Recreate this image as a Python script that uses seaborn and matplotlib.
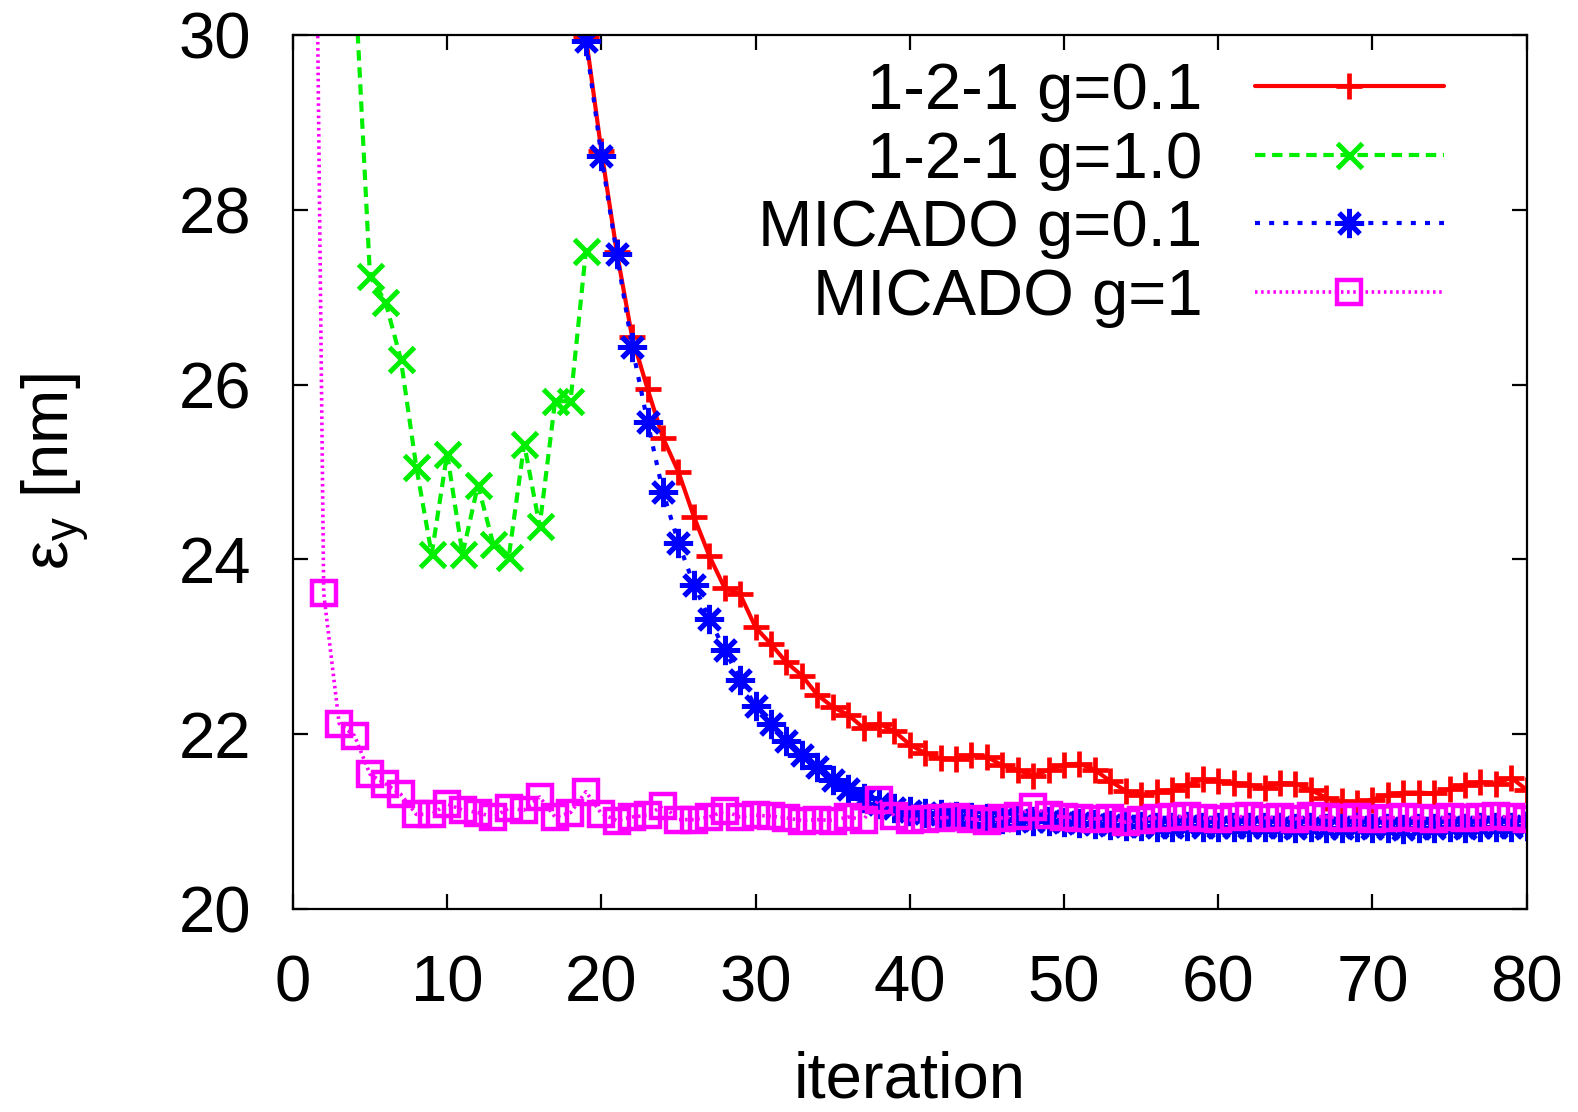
import numpy as np
import pandas as pd
import seaborn as sns
import matplotlib
matplotlib.use('Agg')
import matplotlib.pyplot as plt

# iterations and emittance values
red_iter = list(range(18, 81))
red_eps = [31.4, 29.98, 28.68, 27.52, 26.54, 25.95, 25.39, 25.0, 24.49, 24.04,
           23.67, 23.6, 23.22, 23.03, 22.82, 22.67, 22.45, 22.31, 22.22, 22.07,
           22.12, 22.03, 21.88, 21.78, 21.72, 21.71, 21.76, 21.74, 21.64, 21.59,
           21.52, 21.59, 21.65, 21.66, 21.59, 21.46, 21.35, 21.3, 21.34, 21.36,
           21.42, 21.48, 21.46, 21.44, 21.42, 21.38, 21.44, 21.43, 21.36, 21.27,
           21.23, 21.21, 21.25, 21.3, 21.33, 21.33, 21.32, 21.37, 21.42, 21.45,
           21.43, 21.5, 21.36]

green_iter = list(range(3, 20))
green_eps = [34.0, 30.73, 27.24, 26.95, 26.29, 25.06, 24.06, 25.21, 24.06, 24.85,
             24.17, 24.03, 25.32, 24.38, 25.81, 25.81, 27.53]

blue_iter = list(range(18, 81))
blue_eps = [31.3, 29.93, 28.62, 27.5, 26.43, 25.57, 24.77, 24.19, 23.71, 23.32,
            22.96, 22.62, 22.32, 22.11, 21.92, 21.76, 21.62, 21.47, 21.37, 21.27,
            21.2, 21.15, 21.12, 21.1, 21.08, 21.06, 21.05, 21.04, 21.03, 21.02,
            21.01, 21.0, 20.99, 20.98, 20.97, 20.96, 20.95, 20.95, 20.94, 20.94,
            20.95, 20.94, 20.93, 20.93, 20.94, 20.93, 20.93, 20.92, 20.93, 20.92,
            20.92, 20.93, 20.92, 20.92, 20.91, 20.92, 20.92, 20.93, 20.92, 20.93,
            20.93, 20.94, 20.95]

mag_iter = list(range(1, 81))
mag_eps = [40.0, 23.61, 22.12, 21.98, 21.54, 21.43, 21.31, 21.08, 21.08, 21.2,
           21.13, 21.1, 21.05, 21.15, 21.13, 21.28, 21.05, 21.1, 21.34, 21.09,
           21.01, 21.05, 21.07, 21.18, 21.02, 21.02, 21.05, 21.12, 21.05, 21.07,
           21.06, 21.04, 21.01, 21.02, 21.01, 21.05, 21.02, 21.25, 21.06, 21.02,
           21.03, 21.04, 21.05, 21.03, 21.0, 21.04, 21.06, 21.17, 21.07, 21.05,
           21.04, 21.03, 21.04, 20.99, 21.02, 21.04, 21.05, 21.06, 21.04, 21.03,
           21.05, 21.06, 21.04, 21.05, 21.03, 21.06, 21.05, 21.04, 21.05, 21.03,
           21.04, 21.05, 21.04, 21.03, 21.05, 21.04, 21.05, 21.06, 21.05, 21.03]

labels = ['1-2-1 g=0.1', '1-2-1 g=1.0', 'MICADO g=0.1', 'MICADO g=1']

sns.set_style('ticks')
plt.rcParams['font.family'] = ['Liberation Sans', 'DejaVu Sans']
plt.rcParams['mathtext.fontset'] = 'custom'
plt.rcParams['mathtext.rm'] = 'Liberation Sans'
plt.rcParams['mathtext.it'] = 'Liberation Sans'
for k in ['text.color', 'axes.labelcolor', 'xtick.color', 'ytick.color', 'axes.edgecolor']:
    plt.rcParams[k] = 'black'
fs = 47

fig = plt.figure(figsize=(15.78, 11.12), dpi=100)
ax = fig.add_axes([0.1856, 0.1828, 0.9675 - 0.1856, 0.9683 - 0.1828])

common = dict(ax=ax, sort=False, estimator=None)
sns.lineplot(x=red_iter, y=red_eps, color='#ff0000', lw=3, linestyle='-',
             marker='+', markersize=19, mew=3.4, mec='#ff0000', label=labels[0], **common)
sns.lineplot(x=green_iter, y=green_eps, color='#00ee00', lw=3, linestyle=(0, (2.5, 1.6)),
             marker='x', markersize=18, mew=3.6, mec='#00ee00', label=labels[1], **common)
sns.lineplot(x=blue_iter, y=blue_eps, color='#0000ff', lw=3, linestyle=(0, (1.2, 2.2)),
             marker=(8, 2, 0), markersize=21, mew=3.6, mec='#0000ff', label=labels[2], **common)
sns.lineplot(x=mag_iter, y=mag_eps, color='#ff00ff', lw=2.6, linestyle=(0, (0.7, 1.0)),
             marker='s', markersize=17, mew=3.2, mec='#ff00ff', markerfacecolor='none',
             label=labels[3], **common)

ax.set_xlim(0, 80)
ax.set_ylim(20, 30)
ax.set_xticks(np.arange(0, 81, 10))
ax.set_yticks(np.arange(20, 31, 2))
ax.tick_params(direction='in', length=11, width=1.6, top=True, right=True,
               labelsize=fs, color='black')
ax.tick_params(axis='x', pad=33)
ax.tick_params(axis='y', pad=30)
for s in ax.spines.values():
    s.set_linewidth(1.6)
    s.set_visible(True)

ax.set_xlabel('iteration', fontsize=fs, labelpad=26)
ax.set_ylabel(r'ε$_\mathregular{y}$ [nm]', fontsize=fs, labelpad=62)

# markerfirst=False right-aligns the entries, as in the original
ax.legend(loc='upper right', bbox_to_anchor=(0.933, 0.969), frameon=False,
          fontsize=fs, markerfirst=False, handlelength=2.9, handletextpad=0.8,
          labelspacing=0.13, borderpad=0, borderaxespad=0)

fig.savefig('out.png', dpi=100)
